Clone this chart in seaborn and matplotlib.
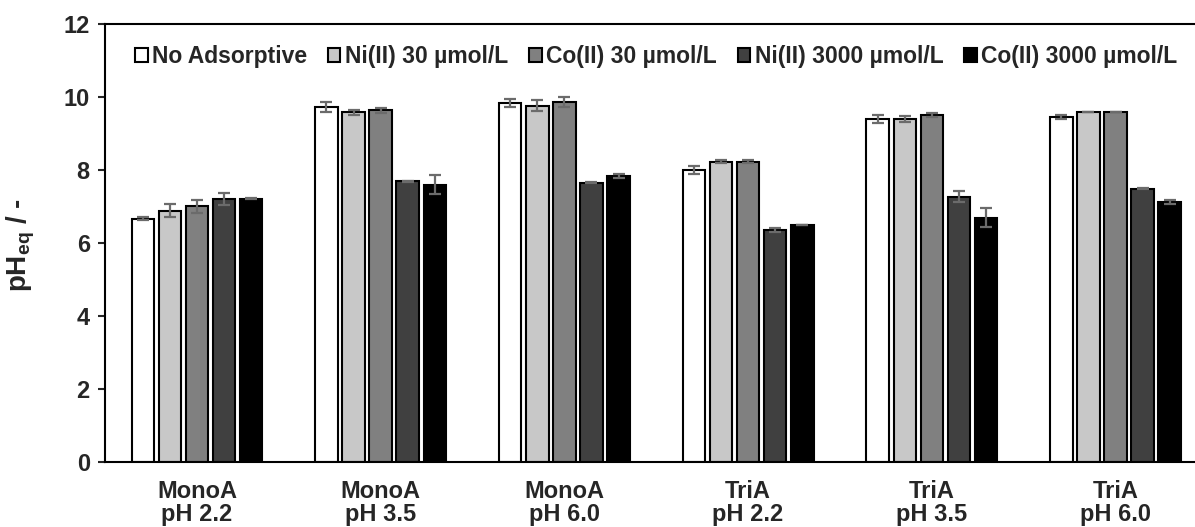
import pandas as pd
import seaborn as sns
import matplotlib.pyplot as plt

groups = ["MonoA\npH 2.2", "MonoA\npH 3.5", "MonoA\npH 6.0",
          "TriA\npH 2.2", "TriA\npH 3.5", "TriA\npH 6.0"]
series = ["No Adsorptive", "Ni(II) 30 µmol/L", "Co(II) 30 µmol/L",
          "Ni(II) 3000 µmol/L", "Co(II) 3000 µmol/L"]

no_ads = [6.67, 9.73, 9.83, 8.00, 9.40, 9.46]
ni_30 = [6.89, 9.58, 9.76, 8.23, 9.39, 9.59]
co_30 = [7.00, 9.63, 9.86, 8.23, 9.50, 9.59]
ni_3000 = [7.20, 7.69, 7.65, 6.36, 7.27, 7.49]
co_3000 = [7.21, 7.59, 7.84, 6.49, 6.69, 7.13]

no_ads_err = [0.04, 0.13, 0.11, 0.11, 0.11, 0.05]
ni_30_err = [0.18, 0.07, 0.15, 0.04, 0.08, 0.0]
co_30_err = [0.17, 0.06, 0.13, 0.04, 0.05, 0.0]
ni_3000_err = [0.17, 0.01, 0.02, 0.06, 0.15, 0.01]
co_3000_err = [0.01, 0.26, 0.06, 0.01, 0.26, 0.06]

values = [no_ads, ni_30, co_30, ni_3000, co_3000]
errors = [no_ads_err, ni_30_err, co_30_err, ni_3000_err, co_3000_err]
colors = ["#ffffff", "#c8c8c8", "#808080", "#404040", "#000000"]

df = pd.DataFrame([
    {"group": g, "series": s, "ph": v}
    for s, vals in zip(series, values)
    for g, v in zip(groups, vals)
])

sns.set_style("ticks")
plt.rcParams["font.family"] = ["Liberation Sans", "DejaVu Sans"]
plt.rcParams["font.weight"] = "bold"
plt.rcParams["mathtext.fontset"] = "custom"
plt.rcParams["mathtext.rm"] = "Liberation Sans:bold"
plt.rcParams["mathtext.bf"] = "Liberation Sans:bold"
plt.rcParams["mathtext.default"] = "bf"

fig = plt.figure(figsize=(11.95, 5.27), dpi=100)
ax = fig.add_axes([0.0879, 0.1233, 0.9225, 0.8312])

sns.barplot(data=df, x="group", y="ph", hue="series", palette=colors,
            width=0.737, gap=0.17, edgecolor="black", linewidth=1.5,
            errorbar=None, ax=ax)

# error bars drawn on top of the seaborn bars
for container, errs in zip(ax.containers, errors):
    xs = [p.get_x() + p.get_width() / 2 for p in container]
    hs = [p.get_height() for p in container]
    ax.errorbar(xs, hs, yerr=errs, fmt="none", ecolor="#6b6b6b",
                elinewidth=1.6, capsize=4.3, capthick=1.6, zorder=5)

ax.set_ylim(0, 12)
ax.set_yticks(range(0, 13, 2))
ax.set_xlim(-0.5, 5.5)
ax.set_xlabel("")
ax.set_ylabel(r"pH$_{eq}$ / -", fontsize=20, fontweight="bold")
ax.yaxis.set_label_coords(-0.062, 0.495)

ax.tick_params(axis="y", labelsize=17, length=5, width=1.5, pad=6)
ax.tick_params(axis="x", labelsize=17, length=0, pad=13)
for lab in ax.get_xticklabels():
    lab.set_fontweight("bold")
    lab.set_linespacing(1.02)
for lab in ax.get_yticklabels():
    lab.set_fontweight("bold")

for side in ["left", "bottom", "top"]:
    ax.spines[side].set_linewidth(1.5)
    ax.spines[side].set_color("black")
ax.spines["right"].set_visible(False)

handles, labels = ax.get_legend_handles_labels()
ax.legend(handles, labels, ncol=5, loc="center", bbox_to_anchor=(0.5, 0.925),
          frameon=False, handlelength=0.55, handleheight=0.55,
          handletextpad=0.2, columnspacing=0.9,
          prop={"size": 16.5, "weight": "bold"})

fig.savefig("out.png", dpi=100)
